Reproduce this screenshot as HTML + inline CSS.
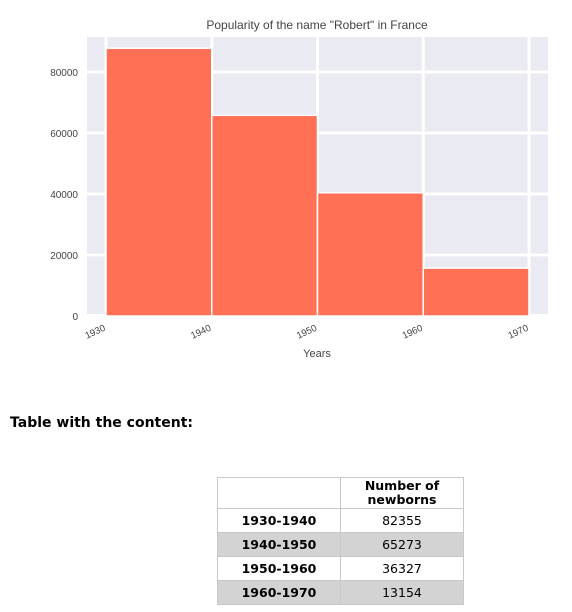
<!DOCTYPE html>
<html><head><meta charset="utf-8">
<style>
body{margin:0;width:572px;height:612px;background:#fff;font-family:"DejaVu Sans","Liberation Sans",sans-serif;position:relative;overflow:hidden}
#chart{position:absolute;left:0;top:0}
h3{position:absolute;left:10px;top:415px;margin:0;font-size:14px;font-weight:bold;color:#000}
table{position:absolute;left:217px;top:477px;border-collapse:collapse;font-size:12.5px;color:#000}
td,th{border:1px solid #c8c8c8;text-align:center;padding:0}
th{height:30px;font-weight:bold;line-height:14px}
td{height:23px}
td.k{font-weight:bold;width:122px}
td.v{width:122px}
tr.g td{background:#d3d3d3}
</style></head><body>
<svg id="chart" width="572" height="370" font-family="Liberation Sans, sans-serif"></svg>
<h3>Table with the content:</h3>
<table>
<tr><th></th><th>Number of<br>newborns</th></tr>
<tr><td class="k">1930-1940</td><td class="v">82355</td></tr>
<tr class="g"><td class="k">1940-1950</td><td class="v">65273</td></tr>
<tr><td class="k">1950-1960</td><td class="v">36327</td></tr>
<tr class="g"><td class="k">1960-1970</td><td class="v">13154</td></tr>
</table>
<script>
const binEdges=[1930,1940,1950,1960,1970];
const barValues=[87800,65800,40400,15700];
const yTicks=[0,20000,40000,60000,80000];
const xTickLabels=["1930","1940","1950","1960","1970"];
const NS="http://www.w3.org/2000/svg";
const svg=document.getElementById('chart');
function xs(v){return 106+(v-1930)*(529-106)/40;}
function ys(v){return 316-v*61/20000;}
function mk(t,a,p){const e=document.createElementNS(NS,t);for(const k in a)e.setAttribute(k,a[k]);(p||svg).appendChild(e);return e;}
const bg=mk('rect',{x:87,y:37,width:461,height:277,fill:'#eaeaf2'});


yTicks.forEach(t=>{
  const l=mk('line',{x1:87,x2:548,y1:ys(t),y2:ys(t),stroke:'#fff','stroke-width':3});
  
  
  const tx=mk('text',{x:78,y:ys(t)+4,'text-anchor':'end','font-size':10,fill:'#444'});
  tx.textContent=String(t);
  
  
});
binEdges.forEach((b,i)=>{
  const l=mk('line',{x1:xs(b),x2:xs(b),y1:37,y2:314,stroke:'#fff','stroke-width':3});
  
  
  const x=xs(b),y=330;
  const tx=mk('text',{x:x,y:y,'text-anchor':'end','font-size':9.5,fill:'#444',transform:'rotate(-25 '+x+' '+y+')'});
  tx.textContent=xTickLabels[i];
  
  
});
barValues.forEach((v,i)=>{
  const x0=xs(binEdges[i]),x1=xs(binEdges[i+1]);
  const r=mk('rect',{x:x0,y:ys(v),width:x1-x0,height:ys(0)-ys(v),fill:'#ff7055',stroke:'#fff','stroke-width':1.5});
  
  
});
const title=mk('text',{x:317,y:29,'text-anchor':'middle','font-size':12,fill:'#444'});
title.textContent='Popularity of the name "Robert" in France';


const xt=mk('text',{x:317,y:357,'text-anchor':'middle','font-size':11,fill:'#444'});
xt.textContent='Years';


</script>
</body></html>
